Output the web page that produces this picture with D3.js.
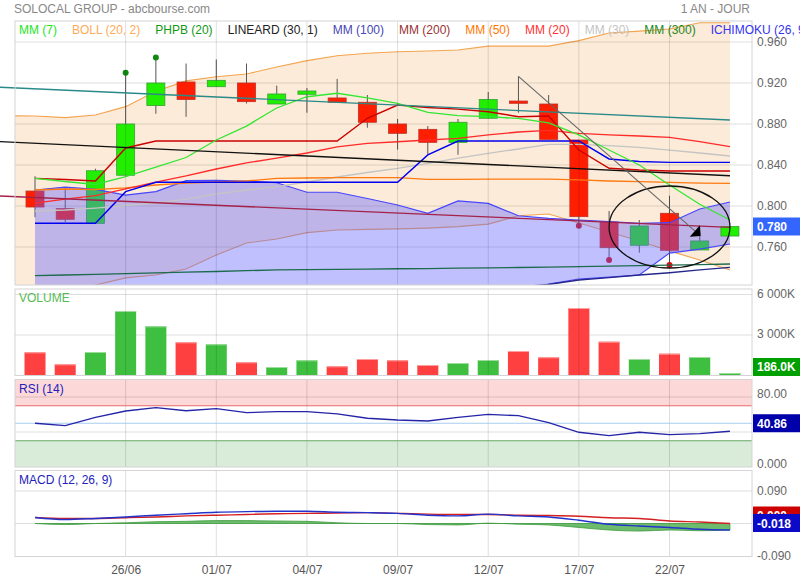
<!DOCTYPE html>
<html><head><meta charset="utf-8">
<script src="https://cdn.jsdelivr.net/npm/d3@7"></script>
<style>body{margin:0;background:#fff}svg{display:block;font-family:Arial,"Liberation Sans",sans-serif}</style>
</head><body><svg id="c" width="800" height="580"></svg>
<script>
// ---------- DATA ----------
const dates = ["21/06","24/06","25/06","26/06","27/06","28/06","01/07","02/07","03/07","04/07","05/07","08/07","09/07","10/07","11/07","12/07","15/07","16/07","17/07","18/07","19/07","22/07","23/07","24/07"];
const tickLabels = ["26/06","01/07","04/07","09/07","12/07","17/07","22/07"];
const priceTicks = [0.760, 0.800, 0.840, 0.880, 0.920, 0.960];
const volumeTicks = [3000, 6000];
const rsiTicks = [0, 80];
const macdTicks = [-0.09, 0.09];

const open  = [0.8146,0.7974,0.7831,0.8300,0.8980,0.9210,0.9164,0.9200,0.8995,0.9090,0.9054,0.9012,0.8800,0.8748,0.8621,0.8856,0.9024,0.8995,0.8644,0.7844,0.7617,0.7929,0.7571,0.7707];
const high  = [0.8290,0.8176,0.8364,0.9300,0.9450,0.9390,0.9430,0.9390,0.9174,0.9151,0.9240,0.9083,0.8849,0.8780,0.8849,0.9112,0.9265,0.9083,0.8644,0.7951,0.7863,0.8100,0.7750,0.7800];
const low   = [0.7890,0.7844,0.7831,0.8300,0.8900,0.8870,0.9164,0.9000,0.8995,0.8910,0.9012,0.8764,0.8550,0.8507,0.8500,0.8856,0.8910,0.8650,0.7808,0.7473,0.7544,0.7424,0.7571,0.7707];
const close = [0.7990,0.7870,0.8344,0.8800,0.9200,0.9040,0.9226,0.9018,0.9093,0.9122,0.9012,0.8817,0.8709,0.8621,0.8817,0.9040,0.9002,0.8650,0.7896,0.7593,0.7805,0.7568,0.7659,0.7800];
const volume = [1718,830,1740,4778,3644,2459,2311,978,630,1126,681,1222,1126,778,926,1148,1815,1348,5000,2504,1222,1615,1370,186];

const phpbHighIdx = [3, 4];
const phpbLowIdx = [18, 19, 21];

// Bollinger (first value = previous session 20/06)
const bollUpper = [0.8880,0.8878,0.8863,0.8888,0.8969,0.9120,0.9220,0.9261,0.9288,0.9356,0.9418,0.9466,0.9490,0.9505,0.9512,0.9522,0.9560,0.9560,0.9560,0.9613,0.9688,0.9707,0.9727,0.9788,0.9788];
const bollLower = [0.6900,0.7000,0.7120,0.7229,0.7298,0.7327,0.7385,0.7522,0.7639,0.7678,0.7740,0.7766,0.7771,0.7776,0.7785,0.7798,0.7824,0.7905,0.7922,0.7834,0.7746,0.7659,0.7561,0.7473,0.7376];

const mm7  = [0.8270,0.8239,0.8210,0.8286,0.8380,0.8473,0.8644,0.8780,0.8956,0.9066,0.9100,0.9054,0.9002,0.8914,0.8881,0.8871,0.8854,0.8810,0.8693,0.8546,0.8400,0.8205,0.8017,0.7863];
const mm20 = [0.8029,0.8068,0.8102,0.8166,0.8234,0.8293,0.8361,0.8420,0.8468,0.8517,0.8576,0.8610,0.8627,0.8644,0.8660,0.8693,0.8722,0.8737,0.8709,0.8693,0.8683,0.8670,0.8629,0.8579];
const mm30 = [0.7951,0.7961,0.7980,0.8005,0.8029,0.8068,0.8117,0.8156,0.8188,0.8234,0.8283,0.8327,0.8368,0.8415,0.8468,0.8514,0.8556,0.8602,0.8602,0.8590,0.8571,0.8546,0.8517,0.8488];
const mm50 = [0.8156,0.8166,0.8161,0.8176,0.8205,0.8224,0.8234,0.8244,0.8270,0.8273,0.8276,0.8276,0.8276,0.8260,0.8260,0.8263,0.8263,0.8263,0.8254,0.8244,0.8237,0.8231,0.8224,0.8221];
const mm100 = [null,null,null,null,null,null,null,null,null,null,null,null,null,null,null,0.7190,0.7212,0.7234,0.7278,0.7302,0.7327,0.7349,0.7376,0.7402];
const mm300 = [0.7320,0.7327,0.7333,0.7341,0.7347,0.7355,0.7361,0.7369,0.7376,0.7379,0.7381,0.7385,0.7388,0.7390,0.7394,0.7397,0.7400,0.7403,0.7408,0.7413,0.7418,0.7423,0.7428,0.7434];

// Ichimoku
const tenkan = [0.8270,0.8258,0.8244,0.8566,0.8634,0.8634,0.8634,0.8634,0.8634,0.8634,0.8634,0.8856,0.8985,0.8961,0.8945,0.8920,0.8871,0.8878,0.8546,0.8368,0.8351,0.8341,0.8341,0.8341];
const kijun  = [0.7831,0.7831,0.7831,0.8140,0.8231,0.8231,0.8231,0.8231,0.8231,0.8231,0.8231,0.8231,0.8231,0.8498,0.8634,0.8634,0.8634,0.8634,0.8634,0.8459,0.8434,0.8426,0.8426,0.8426];
const spanA  = [0.8156,0.8185,0.8163,0.8107,0.8141,0.8247,0.8250,0.8244,0.8227,0.8134,0.8134,0.8073,0.8010,0.7929,0.8049,0.8026,0.7905,0.7880,0.7863,0.7849,0.7831,0.7837,0.7971,0.8039];
const spanB  = [0.7050,0.7050,0.7050,0.7050,0.7050,0.7050,0.7050,0.7050,0.7080,0.7080,0.7080,0.7100,0.7100,0.7120,0.7150,0.7160,0.7180,0.7239,0.7288,0.7307,0.7327,0.7541,0.7580,0.7629];

// LINEARD (30,1): regression channel values at first and last session
const linUpper = [0.9143, 0.8839];
const linMid   = [0.8612, 0.8295];
const linLower = [0.8083, 0.7792];

const rsi = [50.0,47.2,56.8,64.0,67.8,64.3,66.6,62.1,63.2,63.2,60.6,55.7,53.7,52.6,56.8,60.2,58.6,50.6,39.7,35.8,39.7,36.9,38.1,40.86];
const macd   = [0.0167,0.011,0.014,0.018,0.023,0.027,0.031,0.033,0.034,0.034,0.031,0.030,0.028,0.023,0.021,0.026,0.021,0.018,0.009,-0.002,-0.007,-0.011,-0.016,-0.018];
const signal = [0.0167,0.014,0.014,0.016,0.018,0.021,0.023,0.025,0.027,0.028,0.029,0.030,0.028,0.026,0.025,0.025,0.023,0.022,0.020,0.016,0.014,0.007,0.004,0.000];

const legendItems = [
  ["MM (7)", "#22e622"], ["BOLL (20, 2)", "#ffaa55"], ["PHPB (20)", "#119911"],
  ["LINEARD (30, 1)", "#222222"], ["MM (100)", "#4646b4"], ["MM (200)", "#993333"],
  ["MM (50)", "#ff7700"], ["MM (20)", "#ff3333"], ["MM (30)", "#c4c4c4"],
  ["MM (300)", "#228822"], ["ICHIMOKU (26, 9, 52)", "#3333ee"]
];
// annotations (data units)
const ellipseNote = {i: 21, v: 0.7795, di: 2, dv: 0.040};
const arrowNote = {from: {i: 16, v: 0.9265}, to: {i: 22.03, v: 0.7707}};

// ---------- LAYOUT ----------
const L = 15, R = 752;
const main = {top: 21, bottom: 285};
const volP = {top: 289, bottom: 375.5};
const rsiP = {top: 379.5, bottom: 467};
const macP = {top: 470.5, bottom: 556.5};

const svg = d3.select("#c");
const X = d3.scaleLinear().domain([-0.662, 23.73]).range([L, R]);
const Y = d3.scaleLinear().domain([0.760, 0.960]).range([247, 42]);
const YV = d3.scaleLinear().domain([0, 6000]).range([375.5, 294.5]);
const YR = d3.scaleLinear().domain([0, 100]).range([467, 379.5]);
const YM = d3.scaleLinear().domain([-0.09, 0.09]).range([556, 491]);
const tickIdx = tickLabels.map(t => dates.indexOf(t));

const defs = svg.append("defs");
function clip(id, x, y, w, h){ defs.append("clipPath").attr("id", id).append("rect").attr("x",x).attr("y",y).attr("width",w).attr("height",h); }
clip("cm", L, main.top, R-L, main.bottom-main.top);
clip("cl", 0, main.top, R, main.bottom-main.top);
clip("cv", L, volP.top, R-L, volP.bottom-volP.top);
clip("cmac", L, macP.top, R-L, macP.bottom-macP.top);

const gridCol = "rgba(0,0,0,0.13)";

// ---------- MAIN PANEL ----------
const gm = svg.append("g").attr("clip-path", "url(#cm)");
gm.append("path").datum(bollUpper.map((u,k)=>({i:k-1,u,l:bollLower[k]})))
  .attr("d", d3.area().x(d=>X(d.i)).y0(d=>Y(d.l)).y1(d=>Y(d.u)))
  .attr("fill", "#fcebd8");
[bollUpper, bollLower].forEach(arr => {
  gm.append("path").datum(arr).attr("fill","none").attr("stroke","#f3a450").attr("stroke-width",1.2)
    .attr("d", d3.line().x((d,k)=>X(k-1)).y(d=>Y(d)));
});
gm.selectAll(".hg").data(priceTicks).join("line").attr("x1",L).attr("x2",R)
  .attr("y1",d=>Y(d)).attr("y2",d=>Y(d)).attr("stroke",gridCol);
function vgrid(top, bottom){
  svg.append("g").selectAll("line").data(tickIdx).join("line")
    .attr("x1",d=>X(d)).attr("x2",d=>X(d)).attr("y1",top).attr("y2",bottom).attr("stroke",gridCol);
}
vgrid(main.top, main.bottom);

const up = i => close[i] >= open[i];
function drawCandle(g, i){
  g.append("line").attr("x1",X(i)).attr("x2",X(i)).attr("y1",Y(high[i])).attr("y2",Y(low[i])).attr("stroke","#555");
  const y0 = Y(Math.max(open[i], close[i])), y1 = Y(Math.min(open[i], close[i]));
  g.append("rect").attr("x",X(i)-9).attr("width",18).attr("y",y0).attr("height",Math.max(1.5,y1-y0))
    .attr("fill", up(i) ? "#22ee00" : "#ff1e00").attr("stroke", up(i) ? "#35a035" : "#c0302a").attr("stroke-width",0.8);
}
const gc = gm.append("g");
d3.range(dates.length - 1).forEach(i => drawCandle(gc, i));
phpbHighIdx.forEach(i => gm.append("circle").attr("cx",X(i)).attr("cy",Y(high[i])).attr("r",3).attr("fill","#118811"));
phpbLowIdx.forEach(i => gm.append("circle").attr("cx",X(i)).attr("cy",Y(low[i])).attr("r",3).attr("fill","#dd1010"));

gm.append("path").datum(spanA.map((a,i)=>({i,a,b:spanB[i]})))
  .attr("d", d3.area().x(d=>X(d.i)).y0(d=>Y(d.b)).y1(d=>Y(d.a)))
  .attr("fill", "rgba(97,97,255,0.4)");
drawCandle(gm, dates.length - 1);

function line(g, arr, color, w, dash){
  const p = g.append("path").datum(arr).attr("fill","none").attr("stroke",color).attr("stroke-width",w)
    .attr("d", d3.line().defined(d=>d!=null).x((d,i)=>X(i)).y(d=>Y(d)));
  if (dash) p.attr("stroke-dasharray", dash);
}
line(gm, spanA, "#4646ff", 1.2);
line(gm, spanB, "#4646ff", 1.2);
line(gm, mm300, "#1d6a4c", 1.3);
line(gm, mm100, "#26268c", 1.3);
line(gm, mm30, "#c4c4c4", 1.3);
line(gm, mm50, "#ff7a10", 1.3);
line(gm, mm20, "#ff2a2a", 1.3);
line(gm, kijun, "#0000f0", 1.4);
line(gm, tenkan, "#cc0000", 1.4);
line(gm, mm7, "#33e633", 1.3);

const gl = svg.append("g").attr("clip-path","url(#cl)");
const n1 = dates.length - 1, iLeft = X.invert(0);
[[linUpper,"#2a8a8a"],[linMid,"#111111"],[linLower,"#a3224a"]].forEach(([a,c]) => {
  const f = i => a[0] + (a[1]-a[0]) * i / n1;
  gl.append("line").attr("x1",X(iLeft)).attr("y1",Y(f(iLeft))).attr("x2",X(n1)).attr("y2",Y(f(n1)))
    .attr("stroke",c).attr("stroke-width",1.3);
});

const ga = svg.append("g").attr("clip-path","url(#cm)");
ga.append("ellipse").attr("cx",X(ellipseNote.i)).attr("cy",Y(ellipseNote.v))
  .attr("rx",X(ellipseNote.i+ellipseNote.di)-X(ellipseNote.i)).attr("ry",Y(ellipseNote.v-ellipseNote.dv)-Y(ellipseNote.v))
  .attr("fill","none").attr("stroke","#111").attr("stroke-width",1.3);
{
  const ax = X(arrowNote.from.i), ay = Y(arrowNote.from.v), tx = X(arrowNote.to.i), ty = Y(arrowNote.to.v);
  const len = Math.hypot(tx-ax, ty-ay), ux = (tx-ax)/len, uy = (ty-ay)/len, nx = -uy, ny = ux;
  const bx = tx - ux*7.7, by = ty - uy*7.7;
  ga.append("line").attr("x1",ax).attr("y1",ay).attr("x2",bx).attr("y2",by).attr("stroke","#666").attr("stroke-width",1.1);
  ga.append("path").attr("d",`M${tx},${ty}L${bx+nx*7.7},${by+ny*7.7}L${bx-nx*7.7},${by-ny*7.7}Z`).attr("fill","#000");
}

function frame(p){
  svg.append("rect").attr("x",L).attr("y",p.top).attr("width",R-L).attr("height",p.bottom-p.top)
    .attr("fill","none").attr("stroke","#d4d4d4");
}
frame(main);

// ---------- VOLUME ----------
const gv = svg.append("g").attr("clip-path","url(#cv)");
gv.selectAll(".hg").data(volumeTicks).join("line").attr("x1",L).attr("x2",R)
  .attr("y1",d=>YV(d)).attr("y2",d=>YV(d)).attr("stroke",gridCol);
vgrid(volP.top, volP.bottom);
gv.selectAll(".vb").data(volume).join("rect").attr("x",(d,i)=>X(i)-10.5).attr("width",21)
  .attr("y",d=>YV(d)).attr("height",d=>YV(0)-YV(d))
  .attr("fill",(d,i)=> up(i) ? "#3fbf3f" : "#ff4040");
gv.selectAll(".vt").data(volume).join("rect").attr("x",(d,i)=>X(i)-10.5).attr("width",21)
  .attr("y",d=>YV(d)).attr("height",1)
  .attr("fill",(d,i)=> up(i) ? "#9ddc9d" : "#ffa0a0");
frame(volP);

// ---------- RSI ----------
svg.append("rect").attr("x",L).attr("y",YR(100)).attr("width",R-L).attr("height",YR(70)-YR(100)).attr("fill","#fdd8d8");
svg.append("rect").attr("x",L).attr("y",YR(30)).attr("width",R-L).attr("height",YR(0)-YR(30)).attr("fill","#d9ecd9");
[80, 40].forEach(v => svg.append("line").attr("x1",L).attr("x2",R).attr("y1",YR(v)).attr("y2",YR(v)).attr("stroke",gridCol));
vgrid(rsiP.top, rsiP.bottom);
svg.append("line").attr("x1",L).attr("x2",R).attr("y1",YR(70)).attr("y2",YR(70)).attr("stroke","#e86a6a");
svg.append("line").attr("x1",L).attr("x2",R).attr("y1",YR(30)).attr("y2",YR(30)).attr("stroke","#64a864");
svg.append("line").attr("x1",L).attr("x2",R).attr("y1",YR(50)).attr("y2",YR(50)).attr("stroke","#a8cdf0");
svg.append("path").datum(rsi).attr("fill","none").attr("stroke","#2424a8").attr("stroke-width",1.3)
  .attr("d", d3.line().x((d,i)=>X(i)).y(d=>YR(d)));
frame(rsiP);

// ---------- MACD ----------
[0.09, 0].forEach(v => svg.append("line").attr("x1",L).attr("x2",R).attr("y1",YM(v)).attr("y2",YM(v)).attr("stroke",gridCol));
vgrid(macP.top, macP.bottom);
const gmc = svg.append("g").attr("clip-path","url(#cmac)");
gmc.append("path").datum(macd.map((m,i)=>m-signal[i]))
  .attr("d", d3.area().curve(d3.curveMonotoneX).x((d,i)=>X(i)).y0(YM(0)).y1(d=>YM(d)))
  .attr("fill","#54b054").attr("fill-opacity",0.85).attr("stroke","#3c9a3c").attr("stroke-width",0.8);
gmc.append("path").datum(signal).attr("fill","none").attr("stroke","#d42020").attr("stroke-width",1.4)
  .attr("d", d3.line().curve(d3.curveMonotoneX).x((d,i)=>X(i)).y(d=>YM(d)));
gmc.append("path").datum(macd).attr("fill","none").attr("stroke","#2233cc").attr("stroke-width",1.4)
  .attr("d", d3.line().curve(d3.curveMonotoneX).x((d,i)=>X(i)).y(d=>YM(d)));
frame(macP);

// ---------- AXES / LABELS ----------
function rightAxis(scale, ticks, fmt, dy){
  const g = svg.append("g").attr("transform",`translate(${R},${dy||0})`)
    .call(d3.axisRight(scale).tickValues(ticks).tickSize(0).tickPadding(5).tickFormat(fmt));
  g.select(".domain").remove();
  g.selectAll("text").attr("font-size",12).attr("fill","#666").attr("font-family","Arial, Liberation Sans, sans-serif");
}
rightAxis(Y, priceTicks, d3.format(".3f"));
rightAxis(YV, volumeTicks, v => d3.format(",")(v).replace(/,/g," ") + "K", -1);
rightAxis(YR, rsiTicks, v => d3.format(".4r")(v), -3);
rightAxis(YM, macdTicks, v => d3.format(".3f")(v).replace("\u2212","-"));

const xa = svg.append("g").attr("transform",`translate(0,${macP.bottom})`)
  .call(d3.axisBottom(X).tickValues(tickIdx).tickSize(0).tickPadding(9).tickFormat(i => dates[i]));
xa.select(".domain").remove();
xa.selectAll("text").attr("font-size",12).attr("fill","#555").attr("font-family","Arial, Liberation Sans, sans-serif");

function valueBox(y, bg, txt){
  svg.append("rect").attr("x",R+1).attr("y",y-9).attr("width",800-R-1).attr("height",18).attr("fill",bg);
  svg.append("text").attr("x",R+5).attr("y",y+4.5).attr("fill","#fff").attr("font-size",12).attr("font-weight","bold").text(txt);
}
valueBox(Y(close[n1]), "#3366ff", d3.format(".3f")(close[n1]));
valueBox(YV(volume[n1]) - 6, "#00a000", d3.format(".1f")(volume[n1]) + "K");
valueBox(YR(rsi[n1]) - 8, "#0000aa", d3.format(".2f")(rsi[n1]));
valueBox(YM(signal[n1]) - 8, "#cc0000", d3.format(".3f")(signal[n1]).replace("\u2212","-"));
valueBox(YM(macd[n1]) - 7, "#0a0ac8", d3.format(".3f")(macd[n1]).replace("\u2212","-"));

svg.append("text").attr("x",14).attr("y",13).attr("font-size",12).attr("fill","#888").text("SOLOCAL GROUP - abcbourse.com");
svg.append("text").attr("x",750).attr("y",13).attr("font-size",12).attr("fill","#888").attr("text-anchor","end").text("1 AN - JOUR");
svg.append("text").attr("x",19).attr("y",302).attr("font-size",12).attr("fill","#55bb55").text("VOLUME");
svg.append("text").attr("x",19).attr("y",393).attr("font-size",12).attr("fill","#2222bb").text("RSI (14)");
svg.append("text").attr("x",19).attr("y",484).attr("font-size",12).attr("fill","#2222bb").text("MACD (12, 26, 9)");

let lx = 19;
legendItems.forEach(([t,c]) => {
  const tx = svg.append("text").attr("x",lx).attr("y",34).attr("font-size",12).attr("fill",c).text(t);
  lx += tx.node().getComputedTextLength() + 15;
});
</script></body></html>
